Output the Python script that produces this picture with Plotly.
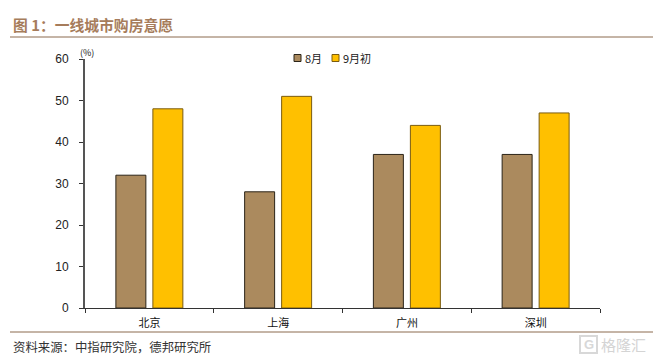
import plotly.graph_objects as go

FONT_CN = "Noto Sans CJK SC"
FONT_NUM = "Liberation Sans"

title = "图 1\uff1a一线城市购房意愿"
source = "资料来源\uff1a中指研究院\uff0c德邦研究所"
unit = "(%)"
watermark = "格隆汇"
logo = "G"
categories = ["北京", "上海", "广州", "深圳"]
series_names = ["8月", "9月初"]
aug = [32, 28, 37, 37]
sep = [48, 51, 44, 47]
y_ticks = [0, 10, 20, 30, 40, 50, 60]
colors = ["#AB8A5E", "#FFC000"]
edges = ["#2b2418", "#7a5c10"]

W, H = 653, 359
L, R, T, B = 85, 600, 59, 308


def px(x):
    return (x - L) / (R - L)


def py(y):
    return (B - y) / (B - T)


fig = go.Figure()
fig.add_bar(x=categories, y=aug, name=series_names[0],
            marker=dict(color=colors[0], line=dict(color=edges[0], width=1)))
fig.add_bar(x=categories, y=sep, name=series_names[1],
            marker=dict(color=colors[1], line=dict(color=edges[1], width=1)))


def note(text, x, y, size, color, anchor="left", family=FONT_CN, **kw):
    font = dict(family=family, size=size, color=color)
    font.update(kw.pop("font_extra", {}))
    return dict(text=text, xref="paper", yref="paper", x=px(x), y=py(y),
                xanchor=anchor, yanchor="middle", showarrow=False, font=font, **kw)


def rule(y):
    return dict(type="line", xref="paper", yref="paper", x0=px(10), x1=px(653),
                y0=py(y), y1=py(y), line=dict(color="#8B6B4E", width=1))


def swatch(x, color, edge):
    return dict(type="rect", xref="paper", yref="paper", x0=px(x), x1=px(x + 7),
                y0=py(61.5), y1=py(54.5), fillcolor=color, line=dict(color=edge, width=1))


fig.update_layout(
    width=W, height=H, autosize=False,
    paper_bgcolor="white", plot_bgcolor="white",
    margin=dict(l=L, r=W - R, t=T, b=H - B, autoexpand=False),
    barmode="group", bargap=0.425, bargroupgap=0.19,
    font=dict(family=FONT_CN, color="#111111", size=11),
    showlegend=False,
    xaxis=dict(type="category", tickson="boundaries", ticks="outside", ticklen=4,
               tickcolor="#333333", showline=True, linecolor="#333333", linewidth=1,
               showgrid=False, ticklabelstandoff=5,
               tickfont=dict(family=FONT_CN, size=11, color="#111111")),
    yaxis=dict(range=[0, 60], tickvals=y_ticks, ticks="outside", ticklen=4,
               tickcolor="#333333", showline=True, linecolor="#555555", linewidth=2,
               showgrid=False, zeroline=False, ticklabelstandoff=8,
               tickfont=dict(family=FONT_NUM, size=12, color="#222222")),
    shapes=[rule(37), rule(332),
            swatch(294, colors[0], edges[0]), swatch(332, colors[1], edges[1]),
            dict(type="rect", xref="paper", yref="paper", x0=px(580), x1=px(597),
                 y0=py(353), y1=py(336), line=dict(color="#d8d8d8", width=2))],
    annotations=[
        note(title, 11, 24, 14.8, "#A67C5B", font_extra=dict(weight="bold")),
        note(source, 11, 347, 12.4, "#333333"),
        note(unit, 87, 52, 9, "#111111", anchor="center"),
        note(series_names[0], 303, 58, 11, "#222222"),
        note(series_names[1], 341, 58, 11, "#222222"),
        note(logo, 588.5, 344, 13, "#d8d8d8", anchor="center", family=FONT_NUM,
             font_extra=dict(weight="bold")),
        note(watermark, 623, 344, 15, "#d4d4d4", anchor="center"),
    ],
)
fig.write_html("out.html", config={"displayModeBar": False},
               post_script="document.body.style.margin='0';")
